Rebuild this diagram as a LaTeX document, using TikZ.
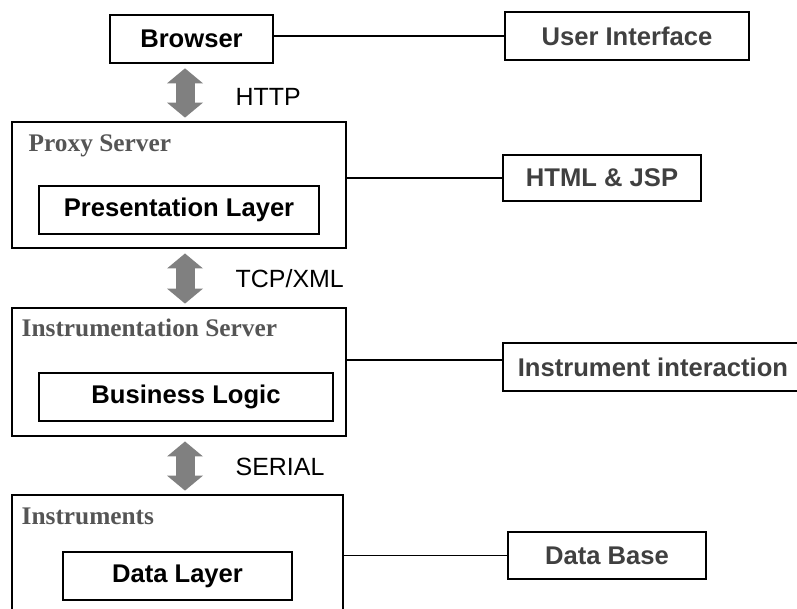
\documentclass[tikz,border=0pt]{standalone}
\usepackage{fontspec}
\setmainfont{Liberation Serif}
\setsansfont{Liberation Sans}
\usetikzlibrary{arrows.meta}

\definecolor{labelgray}{HTML}{555555}
\definecolor{sidegray}{HTML}{404040}
\definecolor{pipegray}{HTML}{808080}

\tikzset{
  box/.style={draw, line width=1.2pt, inner sep=0pt, minimum height=36pt},
  role/.style={box, text=sidegray},
  tier/.style={draw, line width=1.4pt, inner sep=0pt},
  tiername/.style={anchor=west, text=labelgray, font=\rmfamily\bfseries\fontsize{19}{22}\selectfont},
  proto/.style={anchor=west, font=\sffamily\mdseries\fontsize{18.7}{22}\selectfont},
  wire/.style={line width=1.3pt},
  pipe/.style={pipegray, line width=14.25pt, shorten <=3.4pt, shorten >=2.6pt,
    {Triangle[length=11.25pt,width=27pt,line width=0pt]}-{Triangle[length=11.25pt,width=27pt,line width=0pt]}}
}

\begin{document}
\begin{tikzpicture}[x=0.75pt,y=-0.75pt,font=\sffamily\bfseries\fontsize{19.2}{22}\selectfont]
  \useasboundingbox (0,0) rectangle (797,608);

  % tiers
  \node[box, minimum width=122.25pt] (browser) at (191.5,39) {Browser};
  \node[tier, minimum width=250.5pt, minimum height=94.5pt] (proxy) at (179,185) {};
  \node[tier, minimum width=250.5pt, minimum height=96pt] (inst) at (179,372) {};
  \node[tier, minimum width=248.25pt, minimum height=97.5pt] (instr) at (177.5,560) {};

  \node[tiername] (proxyname) at (24,146) {Proxy Server};
  \node[tiername] (instname) at (17,328) {Instrumentation Server};
  \node[tiername] (instrname) at (17,516) {Instruments};

  \node[box, minimum width=210pt] (present) at (179,210) {Presentation Layer};
  \node[box, minimum width=220.5pt] (logic) at (186,397) {Business Logic};
  \node[box, minimum width=171.75pt] (datalayer) at (177.5,576) {Data Layer};

  % roles on the right
  \node[role, minimum width=183pt] (ui) at (627,36) {User Interface};
  \node[role, minimum width=148.5pt, minimum height=34.5pt] (html) at (602,178) {HTML \& JSP};
  \node[role, minimum width=225pt] (interact) at (653,367) {Instrument interaction};
  \node[role, minimum width=148.5pt, minimum height=35.25pt] (db) at (607,555.5) {Data Base};

  \draw[wire] (ui.west -| browser.east) -- (ui.west);
  \draw[wire] (html.west -| proxy.east) -- (html.west);
  \coordinate (tap) at ([yshift=5.25pt]interact.west);
  \draw[wire] (tap -| inst.east) -- (tap);
  \draw[wire] (db.west -| instr.east) -- (db.west);

  % protocols
  \coordinate (axis) at (185,0);
  \draw[pipe] (axis |- browser.south) -- (axis |- proxy.north);
  \draw[pipe] (axis |- proxy.south) -- (axis |- inst.north);
  \draw[pipe] (axis |- inst.south) -- (axis |- instr.north);

  \node[proto] (http) at (231,97) {HTTP};
  \node[proto] (tcp) at (231,279) {TCP/XML};
  \node[proto] (serial) at (231,467) {SERIAL};
\end{tikzpicture}
\end{document}
